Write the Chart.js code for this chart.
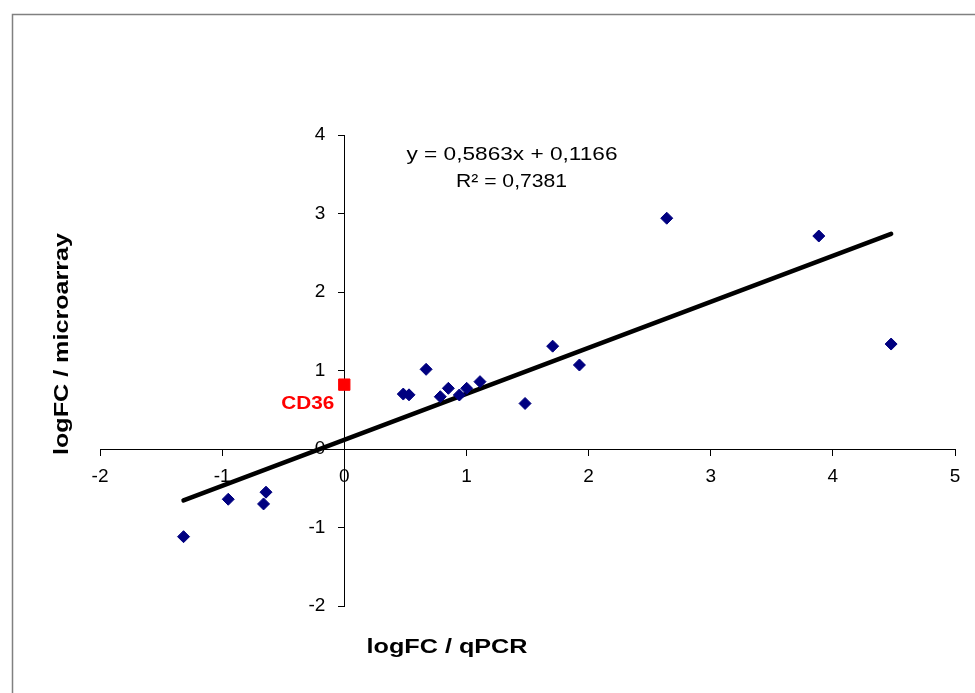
<!DOCTYPE html>
<html><head><meta charset="utf-8">
<script src="https://cdn.jsdelivr.net/npm/chart.js@4/dist/chart.umd.min.js"></script>
<style>html,body{margin:0;padding:0;background:#fff;overflow:hidden}#wrap{position:relative;width:975px;height:693px}</style>
</head><body><div id="wrap"><canvas id="c" width="975" height="693"></canvas></div>
<script>
// ---- data ----
const qpcrLogFC  = [-1.316, -0.95, -0.641, -0.661, 0.483, 0.53, 0.67, 0.786, 0.852, 0.942, 1.002, 1.111, 1.48, 1.706, 1.925, 2.64, 3.885, 4.477];
const arrayLogFC = [-1.117, -0.64, -0.55, -0.70, 0.70, 0.69, 1.015, 0.666, 0.773, 0.688, 0.773, 0.858, 0.58, 1.31, 1.07, 2.94, 2.713, 1.337];
const highlightX = [0];
const highlightY = [0.82];
const highlightLabels = ['CD36'];
const trendSlope = 0.5863;
const trendIntercept = 0.1166;
const trendR2 = 0.7381;
const xTicks = [-2, -1, 0, 1, 2, 3, 4, 5];
const yTicks = [-2, -1, 0, 1, 2, 3, 4];
const xTitle = 'logFC / qPCR';
const yTitle = 'logFC / microarray';

const fmt = v => v.toFixed(4).replace('.', ',');
const xMin = Math.min(...qpcrLogFC), xMax = Math.max(...qpcrLogFC);
const trendData = [xMin, xMax].map(x => ({x, y: trendSlope * x + trendIntercept}));
const pts = qpcrLogFC.map((x, i) => ({x, y: arrayLogFC[i]}));
const hiPts = highlightX.map((x, i) => ({x, y: highlightY[i]}));

function fitText(ctx, text, cx, cy, width, font, color, rot) {
  ctx.save();
  ctx.font = font;
  ctx.fillStyle = color;
  ctx.textAlign = 'center';
  ctx.textBaseline = 'middle';
  const w = ctx.measureText(text).width;
  ctx.translate(cx, cy);
  if (rot) ctx.rotate(rot);
  ctx.scale(width / w, 1);
  ctx.fillText(text, 0, 0);
  ctx.restore();
}

const deco = {
  id: 'deco',
  afterUpdate(chart) {
    const s = chart.scales.y;
    if (s && !s._shiftPatched) {
      const orig = s._computeLabelItems.bind(s);
      s._computeLabelItems = function (ca) {
        const items = orig(ca);
        items.forEach(it => { it.options.translation[0] -= 19; });
        return items;
      };
      s._shiftPatched = true;
      s._labelItems = null;
    }
  },
  beforeDraw(chart) {
    const ctx = chart.ctx;
    ctx.save();
    ctx.fillStyle = '#fff';
    ctx.fillRect(0, 0, chart.width, chart.height);
    ctx.strokeStyle = '#808080';
    ctx.lineWidth = 1.5;
    ctx.strokeRect(12.5, 14.5, 1100, 1100);
    ctx.restore();
  },
  afterDraw(chart) {
    const ctx = chart.ctx;
    const xs = chart.scales.x, ys = chart.scales.y;
    fitText(ctx, 'y = ' + fmt(trendSlope) + 'x + ' + fmt(trendIntercept), 512, 155, 211, '19px "Liberation Sans", Arial, sans-serif', '#000');
    fitText(ctx, 'R\u00b2 = ' + fmt(trendR2), 511.5, 182, 111, '19px "Liberation Sans", Arial, sans-serif', '#000');
    fitText(ctx, xTitle, 447, 647, 161, 'bold 21px "Liberation Sans", Arial, sans-serif', '#000');
    fitText(ctx, yTitle, 62, 344, 222, 'bold 21px "Liberation Sans", Arial, sans-serif', '#000', -Math.PI / 2);
    highlightLabels.forEach((t, i) => {
      const px = xs.getPixelForValue(highlightX[i]);
      const py = ys.getPixelForValue(highlightY[i]);
      fitText(ctx, t, px - 36.5, py + 19, 53, 'bold 18px "Liberation Sans", Arial, sans-serif', '#ff0000');
    });
  }
};

new Chart(document.getElementById('c'), {
  type: 'scatter',
  data: {
    datasets: [
      { label: 'CD36', data: hiPts, pointStyle: 'rect', pointRadius: 8, backgroundColor: '#ff0000', borderColor: '#ff0000', borderWidth: 1, order: 0 },
      { label: 'genes', data: pts, pointStyle: 'rectRot', pointRadius: 6, backgroundColor: '#000080', borderColor: '#000080', borderWidth: 1, order: 1 },
      { label: 'trend', data: trendData, showLine: true, borderColor: '#000', borderWidth: 4.5, borderCapStyle: 'round', pointRadius: 0, order: 2 }
    ]
  },
  options: {
    responsive: false,
    animation: false,
    devicePixelRatio: 1,
    layout: { padding: { left: 100, right: 20, top: 135, bottom: 87 } },
    plugins: { legend: { display: false }, tooltip: { enabled: false } },
    scales: {
      x: {
        type: 'linear', min: -2, max: 5, position: { y: 0 },
        afterBuildTicks: s => { s.ticks = xTicks.map(v => ({value: v})); },
        grid: { drawOnChartArea: false, drawTicks: true, tickLength: 6, color: '#000' },
        border: { display: true, color: '#000', width: 1 },
        ticks: { color: '#000', padding: 10, font: { family: '"Liberation Sans", Arial, sans-serif', size: 19 }, maxRotation: 0 }
      },
      y: {
        type: 'linear', min: -2, max: 4, position: { x: 0 },
        afterBuildTicks: s => { s.ticks = yTicks.map(v => ({value: v})); },
        grid: { drawOnChartArea: false, drawTicks: true, tickLength: 6, color: '#000' },
        border: { display: true, color: '#000', width: 1 },
        ticks: { color: '#000', padding: 12, font: { family: '"Liberation Sans", Arial, sans-serif', size: 19 } }
      }
    }
  },
  plugins: [deco]
});
</script></body></html>
